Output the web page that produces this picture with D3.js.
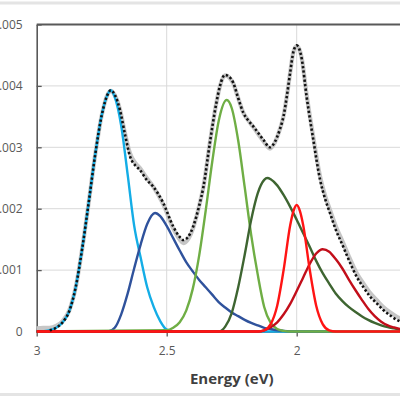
<!DOCTYPE html>
<html><head><meta charset="utf-8">
<script src="https://cdn.jsdelivr.net/npm/d3@7"></script>
<style>html,body{margin:0;padding:0;background:#fff;overflow:hidden}</style>
</head><body>
<svg id="chart" width="400" height="400"></svg>
<script>
// ---------- tick labels ----------
const xTickValues = [3, 2.5, 2, 1.5];
const xTickLabels = ["3", "2.5", "2", "1.5"];
const yTickValues = [0, 0.001, 0.002, 0.003, 0.004, 0.005];
const yTickLabels = ["0", "0.001", "0.002", "0.003", "0.004", "0.005"];
const xAxisTitle = "Energy (eV)";

// ---------- measured spectrum (grey) ----------
const dataEnergy = [3.0,2.975,2.95,2.925,2.9,2.875,2.85,2.825,2.8,2.775,2.75,2.725,2.715,2.7,2.68,2.66,2.641,2.62,2.603,2.577,2.552,2.513,2.475,2.45,2.436,2.42,2.398,2.375,2.359,2.333,2.31,2.295,2.276,2.26,2.244,2.225,2.205,2.185,2.167,2.128,2.103,2.085,2.065,2.05,2.038,2.025,2.013,2.0,1.99,1.981,1.962,1.936,1.91,1.89,1.872,1.85,1.821,1.8,1.769,1.74,1.718,1.69,1.667,1.64,1.615,1.59,1.55,1.5];
const dataValue = [0.05e-3,0.06e-3,0.06e-3,0.09e-3,0.17e-3,0.34e-3,0.72e-3,1.35e-3,2.1e-3,2.88e-3,3.52e-3,3.88e-3,3.92e-3,3.85e-3,3.62e-3,3.22e-3,2.9e-3,2.74e-3,2.66e-3,2.5e-3,2.36e-3,2.07e-3,1.68e-3,1.5e-3,1.44e-3,1.49e-3,1.69e-3,2.05e-3,2.35e-3,3.1e-3,3.7e-3,4.0e-3,4.17e-3,4.14e-3,4.04e-3,3.8e-3,3.56e-3,3.43e-3,3.33e-3,3.1e-3,2.98e-3,3.07e-3,3.29e-3,3.52e-3,3.83e-3,4.22e-3,4.55e-3,4.65e-3,4.6e-3,4.46e-3,3.86e-3,3.16e-3,2.52e-3,2.2e-3,1.98e-3,1.72e-3,1.44e-3,1.23e-3,0.95e-3,0.76e-3,0.63e-3,0.5e-3,0.4e-3,0.31e-3,0.24e-3,0.19e-3,0.13e-3,0.08e-3];

// ---------- total fit (black dotted) ----------
const fitEnergy = [2.95,2.925,2.9,2.875,2.85,2.825,2.8,2.775,2.75,2.725,2.715,2.7,2.68,2.66,2.641,2.62,2.603,2.577,2.552,2.513,2.475,2.45,2.436,2.42,2.398,2.375,2.359,2.333,2.31,2.295,2.276,2.26,2.244,2.225,2.205,2.185,2.167,2.128,2.103,2.085,2.065,2.05,2.038,2.025,2.013,2.0,1.99,1.981,1.962,1.936,1.91,1.89,1.872,1.85,1.821,1.8,1.769,1.74,1.718,1.69,1.667,1.64,1.615,1.59,1.55,1.5];
const fitValue = [0.02e-3,0.06e-3,0.15e-3,0.33e-3,0.72e-3,1.35e-3,2.1e-3,2.88e-3,3.52e-3,3.88e-3,3.93e-3,3.86e-3,3.61e-3,3.2e-3,2.85e-3,2.7e-3,2.63e-3,2.47e-3,2.36e-3,2.09e-3,1.71e-3,1.54e-3,1.49e-3,1.53e-3,1.71e-3,2.05e-3,2.35e-3,3.1e-3,3.7e-3,4.0e-3,4.18e-3,4.15e-3,4.05e-3,3.8e-3,3.56e-3,3.43e-3,3.34e-3,3.12e-3,3.0e-3,3.08e-3,3.29e-3,3.52e-3,3.83e-3,4.22e-3,4.55e-3,4.66e-3,4.6e-3,4.45e-3,3.83e-3,3.12e-3,2.47e-3,2.15e-3,1.93e-3,1.66e-3,1.38e-3,1.17e-3,0.89e-3,0.7e-3,0.57e-3,0.45e-3,0.35e-3,0.26e-3,0.19e-3,0.14e-3,0.08e-3,0.04e-3];

// ---------- component peaks ----------
const peak1Energy = [3.0,2.975,2.95,2.925,2.9,2.875,2.85,2.825,2.8,2.775,2.75,2.725,2.715,2.7,2.675,2.65,2.625,2.6,2.575,2.55,2.525,2.5,2.475,1.5];
const peak1Value = [0,0.005e-3,0.02e-3,0.06e-3,0.15e-3,0.33e-3,0.72e-3,1.35e-3,2.1e-3,2.88e-3,3.52e-3,3.88e-3,3.93e-3,3.82e-3,3.35e-3,2.55e-3,1.72e-3,1.2e-3,0.72e-3,0.4e-3,0.17e-3,0.03e-3,0,0];

const peak2Energy = [3.0,2.725,2.7,2.675,2.65,2.625,2.6,2.575,2.545,2.525,2.5,2.475,2.45,2.425,2.4,2.375,2.35,2.325,2.3,2.275,2.25,2.225,2.2,2.175,2.15,2.125,2.1,2.075,2.05,2.0,1.5];
const peak2Value = [0,0,0.06e-3,0.28e-3,0.62e-3,1.03e-3,1.42e-3,1.75e-3,1.93e-3,1.88e-3,1.72e-3,1.52e-3,1.32e-3,1.13e-3,0.98e-3,0.84e-3,0.72e-3,0.6e-3,0.48e-3,0.39e-3,0.31e-3,0.25e-3,0.19e-3,0.14e-3,0.1e-3,0.06e-3,0.04e-3,0.02e-3,0.01e-3,0,0];

const peak3Energy = [3.0,2.5,2.475,2.45,2.425,2.4,2.375,2.35,2.325,2.3,2.269,2.25,2.225,2.2,2.175,2.15,2.125,2.1,2.075,2.05,2.025,1.5];
const peak3Value = [0,0.02e-3,0.06e-3,0.15e-3,0.34e-3,0.69e-3,1.24e-3,1.97e-3,2.76e-3,3.43e-3,3.77e-3,3.64e-3,3.11e-3,2.35e-3,1.57e-3,0.93e-3,0.4e-3,0.14e-3,0.04e-3,0.01e-3,0,0];

const peak4Energy = [3.0,2.3,2.275,2.25,2.225,2.2,2.175,2.15,2.125,2.113,2.1,2.075,2.05,2.025,2.0,1.975,1.95,1.925,1.9,1.875,1.85,1.825,1.8,1.775,1.75,1.725,1.7,1.675,1.65,1.625,1.6,1.55,1.5];
const peak4Value = [0,0,0.08e-3,0.3e-3,0.72e-3,1.25e-3,1.82e-3,2.25e-3,2.47e-3,2.5e-3,2.48e-3,2.38e-3,2.22e-3,2.03e-3,1.82e-3,1.6e-3,1.38e-3,1.15e-3,0.95e-3,0.78e-3,0.62e-3,0.5e-3,0.4e-3,0.32e-3,0.25e-3,0.19e-3,0.14e-3,0.1e-3,0.07e-3,0.05e-3,0.03e-3,0.01e-3,0];

const peak5Energy = [3.0,2.15,2.125,2.1,2.075,2.05,2.025,2.0125,2.0,1.9875,1.975,1.95,1.925,1.9,1.875,1.85,1.5];
const peak5Value = [0,0,0.02e-3,0.12e-3,0.42e-3,1.01e-3,1.73e-3,1.96e-3,2.06e-3,1.96e-3,1.73e-3,1.01e-3,0.42e-3,0.12e-3,0.02e-3,0,0];

const peak6Energy = [3.0,2.15,2.125,2.1,2.075,2.05,2.025,2.0,1.975,1.95,1.925,1.9,1.875,1.85,1.825,1.8,1.775,1.75,1.725,1.7,1.675,1.65,1.625,1.6,1.55,1.5];
const peak6Value = [0,0,0.02e-3,0.07e-3,0.15e-3,0.28e-3,0.45e-3,0.66e-3,0.88e-3,1.1e-3,1.27e-3,1.34e-3,1.3e-3,1.18e-3,1.03e-3,0.85e-3,0.68e-3,0.52e-3,0.37e-3,0.25e-3,0.16e-3,0.1e-3,0.065e-3,0.04e-3,0.015e-3,0];

// ---------- drawing ----------
const svg = d3.select("#chart");
const x = d3.scaleLinear().domain([3, 1.5]).range([36.7, 426.7]);
const y = d3.scaleLinear().domain([0, 0.005]).range([331.5, 24.5]);

// outer frame remnants of cropped chart
svg.append("line").attr("x1", 0).attr("x2", 400).attr("y1", 3).attr("y2", 3)
  .attr("stroke", "#e4e4e4").attr("stroke-width", 3);
svg.append("line").attr("x1", 0).attr("x2", 400).attr("y1", 394.5).attr("y2", 394.5)
  .attr("stroke", "#e4e4e4").attr("stroke-width", 3);

// grid
svg.append("g").selectAll("line").data(yTickValues.slice(1, -1)).join("line")
  .attr("x1", x(3)).attr("x2", x(1.5)).attr("y1", d => y(d)).attr("y2", d => y(d))
  .attr("stroke", "#d9d9d9").attr("stroke-width", 1);
svg.append("g").selectAll("line").data(xTickValues.slice(1)).join("line")
  .attr("x1", d => x(d)).attr("x2", d => x(d)).attr("y1", y(0.005)).attr("y2", y(0))
  .attr("stroke", "#d9d9d9").attr("stroke-width", 1);

// axes
const yAxis = d3.axisLeft(y).tickValues(yTickValues).tickFormat((d, i) => yTickLabels[i])
  .tickSizeInner(-5).tickSizeOuter(0).tickPadding(14);
const gy = svg.append("g").attr("transform", `translate(${x(3)},0)`).call(yAxis);
const xAxis = d3.axisBottom(x).tickValues(xTickValues).tickFormat((d, i) => xTickLabels[i])
  .tickSizeInner(5).tickSizeOuter(0).tickPadding(10);
const gx = svg.append("g").attr("transform", `translate(0,${y(0)})`).call(xAxis);
[gx, gy].forEach(g => {
  g.select(".domain").attr("stroke", "#595959").attr("stroke-width", 1.6);
  g.selectAll(".tick line").attr("stroke", "#595959").attr("stroke-width", 1.3);
  g.selectAll("text").attr("fill", "#595959").style("font-family", "'Open Sans', sans-serif").style("font-size", "12px");
});
// top border of plot area
svg.append("line").attr("x1", x(3)).attr("x2", x(1.5)).attr("y1", y(0.005)).attr("y2", y(0.005))
  .attr("stroke", "#595959").attr("stroke-width", 2);

svg.append("text").attr("x", x(2.25)).attr("y", 383.5).attr("text-anchor", "middle")
  .style("font-family", "'Open Sans', sans-serif").style("font-size", "15px").style("font-weight", "bold")
  .attr("fill", "#404040").text(xAxisTitle);

// lines
const line = d3.line().x(d => x(d[0])).y(d => y(d[1])).curve(d3.curveMonotoneX);
const zip = (a, b) => a.map((e, i) => [e, b[i]]);

const series = [
  { e: dataEnergy, v: dataValue, color: "#c6c6c6", w: 4.2 },
  { e: peak1Energy, v: peak1Value, color: "#14ade6", w: 2.4 },
  { e: peak2Energy, v: peak2Value, color: "#2f529c", w: 2.4 },
  { e: peak3Energy, v: peak3Value, color: "#6fae45", w: 2.4 },
  { e: peak4Energy, v: peak4Value, color: "#3e6531", w: 2.4 },
  { e: peak6Energy, v: peak6Value, color: "#c20e1a", w: 2.4 },
  { e: peak5Energy, v: peak5Value, color: "#ff1414", w: 2.4 }
];
series.forEach(s => {
  svg.append("path").datum(zip(s.e, s.v)).attr("d", line)
    .attr("fill", "none").attr("stroke", s.color).attr("stroke-width", s.w)
    .attr("stroke-linejoin", "round");
});
svg.append("path").datum(zip(fitEnergy, fitValue)).attr("d", line)
  .attr("fill", "none").attr("stroke", "#111").attr("stroke-width", 2.6)
  .attr("stroke-dasharray", "2.3 2.2");
</script>
</body></html>
